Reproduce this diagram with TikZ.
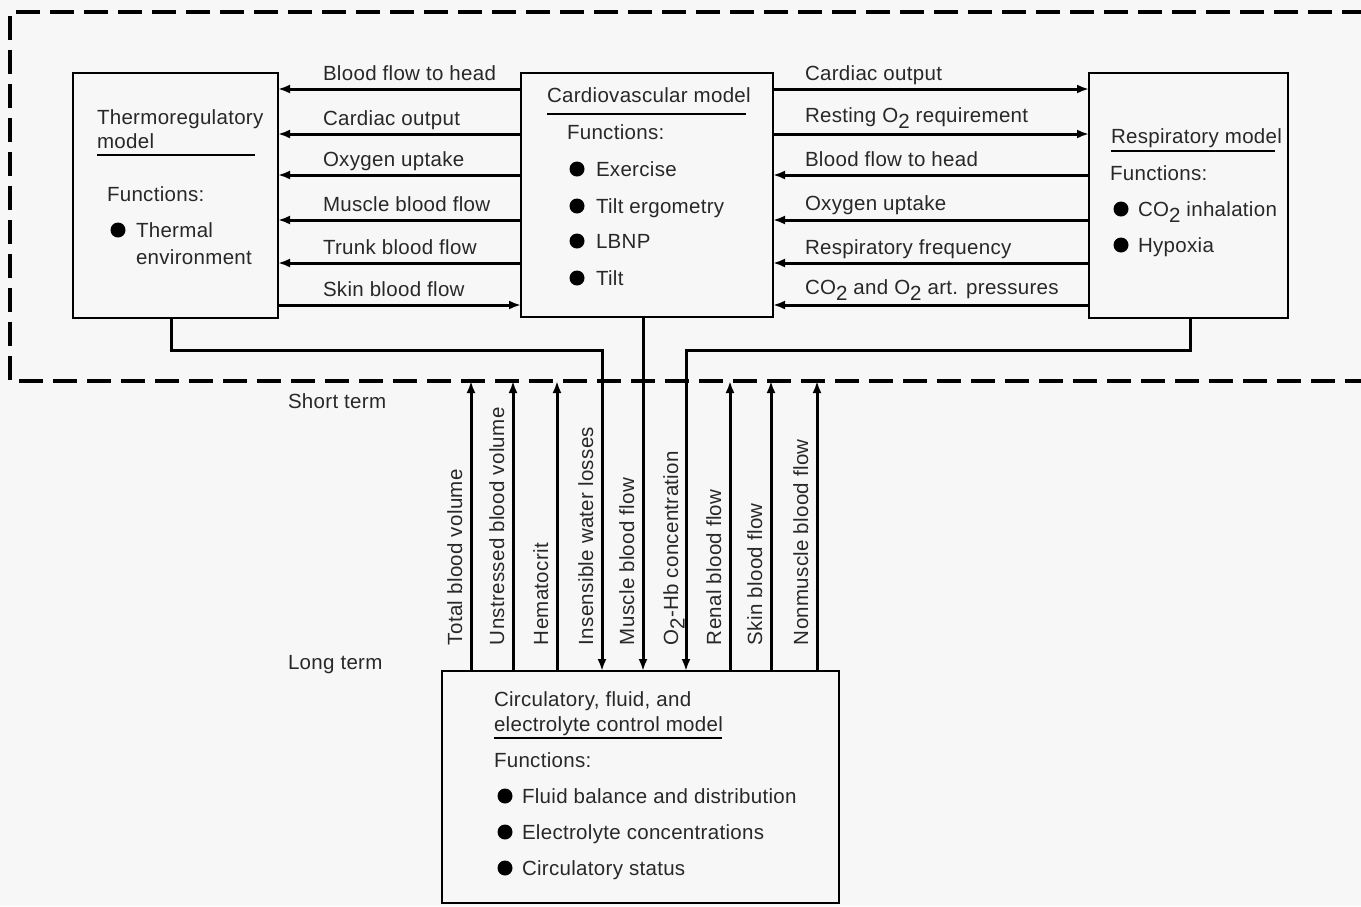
\documentclass[tikz,border=0pt]{standalone}
\usepackage{fontspec}
\setmainfont{Liberation Sans}[LetterSpace=1.5]
\usetikzlibrary{arrows.meta}
\newcommand{\subtwo}{\raisebox{-0.6ex}{2}}
\definecolor{bgc}{RGB}{247,247,247}
\definecolor{ink}{RGB}{40,40,40}
\begin{document}
\begin{tikzpicture}[x=1pt,y=-1pt,
  every node/.style={inner sep=0pt, outer sep=0pt, font=\fontsize{20.5}{24}\selectfont, text=ink},
  box/.style={draw=black, line width=2.4pt, anchor=north west},
  arr/.style={line width=3pt, -{Latex[length=12pt,width=9pt]}},
  dashframe/.style={line width=3.5pt, dash pattern=on 24pt off 10pt},
  txt/.style={anchor=base west},
  vlab/.style={anchor=base west, rotate=90},
  bulletdot/.style={circle, fill=black, minimum size=15pt},
  uline/.style={line width=1.5pt}]
\path[use as bounding box, fill=bgc] (0,0) rectangle (1361,906);

% dashed frame
\coordinate (frTL) at (10,12);
\coordinate (frBL) at (10,381);
\draw[dashframe] (1400,12) -- (frTL) -- (frBL) -- (1400,381);

% boxes
\node[box, minimum width=205pt, minimum height=245pt] (thermo) at (73,73) {};
\node[box, minimum width=252pt, minimum height=244pt] (cardio) at (521,73) {};
\node[box, minimum width=199pt, minimum height=245pt] (resp) at (1089,73) {};
\node[box, minimum width=397pt, minimum height=232pt] (circ) at (442,671) {};

% thermoregulatory text
\node[txt] (thT1) at (97,124) {Thermoregulatory};
\node[txt] (thT2) at (97,148) {model};
\draw[uline] (97,155) -- (255,155);
\node[txt] (thF) at (107,201) {Functions:};
\node[bulletdot] (thB1) at (118,230) {};
\node[txt] (thI1) at (136,237) {Thermal};
\node[txt] (thI2) at (136,264) {environment};

% cardiovascular text
\node[txt] (cvT) at (547,102) {Cardiovascular model};
\draw[uline] (547,114) -- (746,114);
\node[txt] (cvF) at (567,139) {Functions:};
\node[bulletdot] (cvB1) at (577,169) {};
\node[bulletdot] (cvB2) at (577,206) {};
\node[bulletdot] (cvB3) at (577,241) {};
\node[bulletdot] (cvB4) at (577,278) {};
\node[txt] (cvI1) at (596,176) {Exercise};
\node[txt] (cvI2) at (596,213) {Tilt ergometry};
\node[txt] (cvI3) at (596,248) {LBNP};
\node[txt] (cvI4) at (596,285) {Tilt};

% respiratory text
\node[txt] (rsT) at (1111,143) {Respiratory model};
\draw[uline] (1111,151) -- (1275,151);
\node[txt] (rsF) at (1110,180) {Functions:};
\node[bulletdot] (rsB1) at (1121,209) {};
\node[bulletdot] (rsB2) at (1121,245) {};
\node[txt] (rsI1) at (1138,216) {CO\subtwo{} inhalation};
\node[txt] (rsI2) at (1138,252) {Hypoxia};

% circulatory text
\node[txt] (ciT1) at (494,706) {Circulatory, fluid, and};
\node[txt] (ciT2) at (494,731) {electrolyte control model};
\draw[uline] (494,738) -- (722,738);
\node[txt] (ciF) at (494,767) {Functions:};
\node[bulletdot] (ciB1) at (505,796) {};
\node[bulletdot] (ciB2) at (505,832) {};
\node[bulletdot] (ciB3) at (505,868) {};
\node[txt] (ciI1) at (522,803) {Fluid balance and distribution};
\node[txt] (ciI2) at (522,839) {Electrolyte concentrations};
\node[txt] (ciI3) at (522,875) {Circulatory status};

% left connectors
\draw[arr] (cardio.west |- 0,89) -- (thermo.east |- 0,89);
\draw[arr] (cardio.west |- 0,134) -- (thermo.east |- 0,134);
\draw[arr] (cardio.west |- 0,175) -- (thermo.east |- 0,175);
\draw[arr] (cardio.west |- 0,220) -- (thermo.east |- 0,220);
\draw[arr] (cardio.west |- 0,263) -- (thermo.east |- 0,263);
\draw[arr] (thermo.east |- 0,305) -- (cardio.west |- 0,305);
\node[txt] (lL1) at (323,80) {Blood flow to head};
\node[txt] (lL2) at (323,125) {Cardiac output};
\node[txt] (lL3) at (323,166) {Oxygen uptake};
\node[txt] (lL4) at (323,211) {Muscle blood flow};
\node[txt] (lL5) at (323,254) {Trunk blood flow};
\node[txt] (lL6) at (323,296) {Skin blood flow};

% right connectors
\draw[arr] (cardio.east |- 0,89) -- (resp.west |- 0,89);
\draw[arr] (cardio.east |- 0,134) -- (resp.west |- 0,134);
\draw[arr] (resp.west |- 0,175) -- (cardio.east |- 0,175);
\draw[arr] (resp.west |- 0,220) -- (cardio.east |- 0,220);
\draw[arr] (resp.west |- 0,263) -- (cardio.east |- 0,263);
\draw[arr] (resp.west |- 0,305) -- (cardio.east |- 0,305);
\node[txt] (rL1) at (805,80) {Cardiac output};
\node[txt] (rL2) at (805,122) {Resting O\subtwo{} requirement};
\node[txt] (rL3) at (805,166) {Blood flow to head};
\node[txt] (rL4) at (805,210) {Oxygen uptake};
\node[txt] (rL5) at (805,254) {Respiratory frequency};
\node[txt] (rL6) at (805,294) {CO\subtwo{} and O\subtwo{} art. pressures};

% short / long term
\node[txt] (sterm) at (288,408) {Short term};
\node[txt] (lterm) at (288,669) {Long term};

% down connectors into circulatory model
\draw[arr] (171,0 |- thermo.south) |- (602,350) -- (602,0 |- circ.north);
\draw[arr] (643,0 |- cardio.south) -- (643,0 |- circ.north);
\draw[arr] (1190,0 |- resp.south) |- (686,350) -- (686,0 |- circ.north);

% up connectors
\draw[arr] (471,0 |- circ.north) -- (471,0 |- frBL);
\draw[arr] (513,0 |- circ.north) -- (513,0 |- frBL);
\draw[arr] (557,0 |- circ.north) -- (557,0 |- frBL);
\draw[arr] (730,0 |- circ.north) -- (730,0 |- frBL);
\draw[arr] (771,0 |- circ.north) -- (771,0 |- frBL);
\draw[arr] (817,0 |- circ.north) -- (817,0 |- frBL);

% vertical labels
\node[vlab] (v1) at (462,645) {Total blood volume};
\node[vlab] (v2) at (504,645) {Unstressed blood volume};
\node[vlab] (v3) at (548,645) {Hematocrit};
\node[vlab] (v4) at (593,645) {Insensible water losses};
\node[vlab] (v5) at (634,645) {Muscle blood flow};
\node[vlab] (v6) at (678,645) {O\subtwo-Hb concentration};
\node[vlab] (v7) at (721,645) {Renal blood flow};
\node[vlab] (v8) at (762,645) {Skin blood flow};
\node[vlab] (v9) at (808,645) {Nonmuscle blood flow};
\end{tikzpicture}
\end{document}
